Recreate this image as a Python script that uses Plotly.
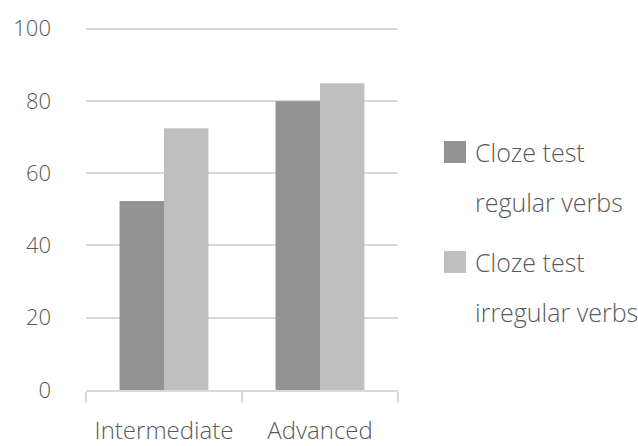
import plotly.graph_objects as go

categories = ["Intermediate", "Advanced"]
series_names = ["Cloze test regular verbs", "Cloze test irregular verbs"]
legend_lines = [["Cloze test", "regular verbs"], ["Cloze test", "irregular verbs"]]
regular = [52.3, 79.9]
irregular = [72.4, 84.9]
colors = ["#939393", "#bfbfbf"]
yticks = [0, 20, 40, 60, 80, 100]

FONT = "Open Sans"
TXT = "#595959"
FW = 300

fig = go.Figure()
for name, vals, c in zip(series_names, [regular, irregular], colors):
    fig.add_trace(go.Bar(x=categories, y=vals, name=name, marker=dict(color=c, line=dict(width=0)),
                         showlegend=False, hoverinfo="skip"))

PL, PR, PT, PB = 86, 398, 25, 390
fig.update_layout(
    width=638, height=446,
    margin=dict(l=PL, r=638 - PR, t=PT, b=446 - PB),
    paper_bgcolor="white", plot_bgcolor="white",
    barmode="group", bargap=0.43, bargroupgap=0,
    font=dict(family=FONT, size=22, color=TXT, weight=FW),
    xaxis=dict(showgrid=False, showline=True, linecolor="#d9d9d9", linewidth=1.5,
               ticks="outside", tickson="boundaries", ticklen=11, tickcolor="#d9d9d9",
               tickwidth=1.5, ticklabelstandoff=18, automargin=False,
               tickfont=dict(family=FONT, size=24, color=TXT, weight=FW)),
    yaxis=dict(range=[0, 101], tickvals=yticks, showgrid=True, gridcolor="#d9d9d9", gridwidth=1.5,
               zeroline=False, showline=False, ticklabelstandoff=34, automargin=False,
               tickfont=dict(family=FONT, size=22, color=TXT, weight=FW)),
)

W, H = PR - PL, PB - PT
legend_y0 = [152, 262]
for i, (lines, c) in enumerate(zip(legend_lines, colors)):
    yc = legend_y0[i]
    fig.add_shape(type="rect", xref="paper", yref="paper",
                  x0=(444 - PL) / W, x1=(466 - PL) / W,
                  y0=(PB - (yc + 11)) / H, y1=(PB - (yc - 11)) / H,
                  fillcolor=c, line=dict(width=0))
    for j, t in enumerate(lines):
        fig.add_annotation(xref="paper", yref="paper", x=(473 - PL) / W,
                           y=(PB - (yc + 50 * j)) / H, text=t, showarrow=False,
                           xanchor="left", yanchor="middle",
                           font=dict(family=FONT, size=25, color=TXT, weight=FW))

fig.write_html("out.html", config={"displayModeBar": False},
               post_script="document.body.style.margin='0';")
